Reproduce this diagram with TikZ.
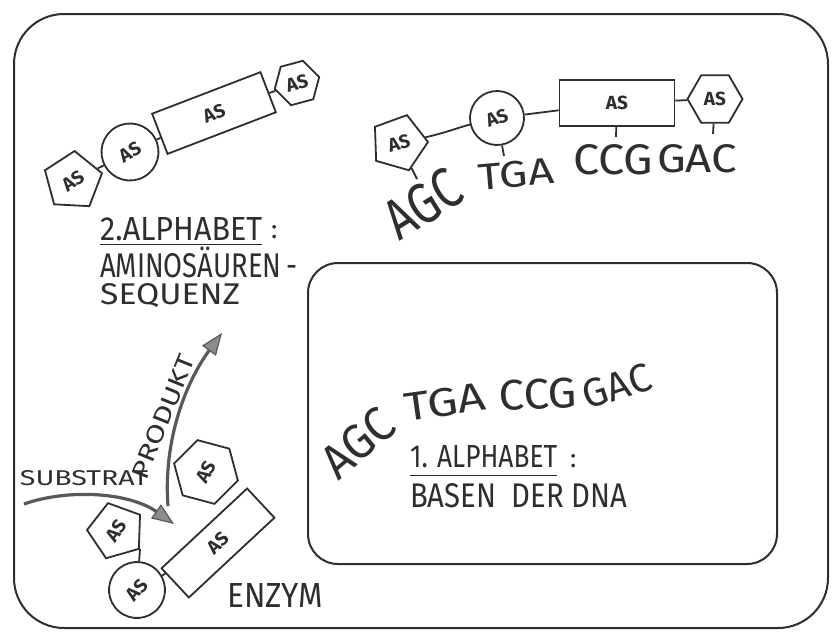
\documentclass[tikz,border=0pt]{standalone}
\usepackage{fontspec}
\setmainfont{Fira Sans}
\usepackage{graphicx}
\usetikzlibrary{shapes.geometric,arrows.meta}
\definecolor{ink}{HTML}{2E2E2E}
\definecolor{shaft}{HTML}{595959}
\definecolor{headfill}{HTML}{8C8C8C}
\newcommand{\fitbox}[3]{\resizebox{#1}{#2}{#3}}
\begin{document}
\begin{tikzpicture}[x=1pt,y=-1pt,
  stroke/.style={draw=ink, line width=1.8pt},
  asnode/.style={stroke, inner sep=0pt, text=ink, font=\fontsize{19}{19}\selectfont\bfseries},
  pent/.style={asnode, regular polygon, regular polygon sides=5},
  hexa/.style={asnode, regular polygon, regular polygon sides=6},
  ring/.style={asnode, circle},
  bar/.style={asnode, rectangle},
  link/.style={draw=ink, line width=1.8pt},
  frame/.style={draw=ink, line width=2pt},
  word/.style={text=ink, inner sep=0pt},
  flow/.style={draw=shaft, line width=3.2pt, -{Triangle[length=22pt,width=17pt,fill=headfill,line width=1.2pt]}},
]
\fill[white] (0,0) rectangle (836,632);
\draw[frame, rounded corners=50] (14,14) rectangle (828,628);
\draw[frame, rounded corners=30] (308,263) rectangle (777,564);

% top-left chain
\node[pent, minimum size=60pt, rotate=35, shape border rotate=-38] (p1) at (73,181) {AS};
\node[ring, minimum size=57pt, rotate=30] (c1) at (130,152) {AS};
\node[bar, minimum width=116pt, minimum height=43pt, rotate=21] (r1) at (214,113) {AS};
\node[hexa, minimum size=46pt, rotate=15] (h1) at (297,83) {AS};
\draw[link] (p1) -- (c1);
\draw[link] (c1) -- (r1);
\draw[link] (r1) -- (h1);

% top-right chain
\node[pent, minimum size=58pt, rotate=15, shape border rotate=-31] (p2) at (399,143) {AS};
\node[ring, minimum size=54pt, rotate=20] (c2) at (497,118) {AS};
\node[bar, minimum width=115pt, minimum height=46pt] (r2) at (617,103) {AS};
\node[hexa, minimum size=55pt] (h2) at (715,99) {AS};
\draw[link] (p2) .. controls (445,133) and (460,127) .. (c2);
\draw[link] (c2) -- (r2);
\draw[link] (r2) -- (h2);
\coordinate (tk1) at (417,179);
\coordinate (tk2) at (504,156);
\coordinate (tk3) at (616,137);
\coordinate (tk4) at (713,134);
\draw[link] (tk1) -- (p2);
\draw[link] (tk2) -- (c2);
\draw[link] (tk3) -- (r2);
\draw[link] (tk4) -- (h2);

\node[word, rotate=32] (agc1) at (423,204) {\fitbox{80pt}{40pt}{AGC}};
\node[word, rotate=5] (tga1) at (516,174) {\fitbox{76pt}{26pt}{TGA}};
\node[word] (ccg1) at (613,160) {\fitbox{80pt}{30pt}{CCG}};
\node[word] (gac1) at (697,159) {\fitbox{80pt}{28pt}{GAC}};

% labels left
\node[word, anchor=base west] (al2) at (100,240) {\fitbox{162pt}{23pt}{2.ALPHABET}};
\node[word, anchor=base west] (col2) at (271,238) {\fitbox{!}{13pt}{:}};
\draw[link, line width=1.5pt] ([yshift=-4pt]al2.south west) -- ([yshift=-4pt]al2.south east);
\node[word, anchor=base west] (ami) at (100,277) {\fitbox{197pt}{24pt}{AMINOS\smash{Ä}UREN\,-}};
\node[word, anchor=base west] (seq) at (100,304) {\fitbox{140pt}{21pt}{SEQUENZ}};

% inner box
\node[word, rotate=40] (agc2) at (358,443) {\fitbox{80pt}{34pt}{AGC}};
\node[word, rotate=8] (tga2) at (445,402) {\fitbox{82pt}{28pt}{TGA}};
\node[word, rotate=2] (ccg2) at (538,394) {\fitbox{78pt}{30pt}{CCG}};
\node[word, rotate=18] (gac2) at (617,386) {\fitbox{70pt}{28pt}{GAC}};
\node[word, anchor=base west] (al1) at (410,467) {\fitbox{147pt}{22pt}{1. ALPHABET}};
\node[word, anchor=base west] (col1) at (570,467) {\fitbox{!}{13pt}{:}};
\draw[link, line width=1.5pt] ([yshift=-8pt]al1.south west) -- ([yshift=-8pt]al1.south east);
\node[word, anchor=base west] (bas) at (410,507) {\fitbox{217pt}{24pt}{BASEN\ \ DER DNA}};

% enzyme
\node[hexa, minimum size=66pt, rotate=60, shape border rotate=-15] (h3) at (206,472) {AS};
\node[pent, minimum size=58pt, rotate=55, shape border rotate=-39] (p3) at (116,531) {AS};
\node[ring, minimum size=56pt, rotate=50] (c3) at (137,590) {AS};
\node[bar, minimum width=117pt, minimum height=40pt, rotate=43] (r3) at (218,543) {AS};
\coordinate (kp) at (140,549);
\draw[link] (kp) -- (c3);
\draw[link] (c3) -- (r3);
\node[word, anchor=base west] (enz) at (227,607) {\fitbox{96pt}{24pt}{ENZYM}};

\coordinate (s0) at (24,504);
\coordinate (s1) at (174,524);
\draw[flow] (s0) .. controls (70,488) and (130,493) .. (s1);
\coordinate (q0) at (168,506);
\coordinate (q1) at (222,333);
\draw[flow] (q0) .. controls (163,440) and (186,382) .. (q1);
\node[word] (sub) at (84,478) {\fitbox{128pt}{15pt}{SUBSTRAT}};
\node[word, rotate=68] (pro) at (163,417) {\fitbox{132pt}{17pt}{PRODUKT}};
\end{tikzpicture}
\end{document}
